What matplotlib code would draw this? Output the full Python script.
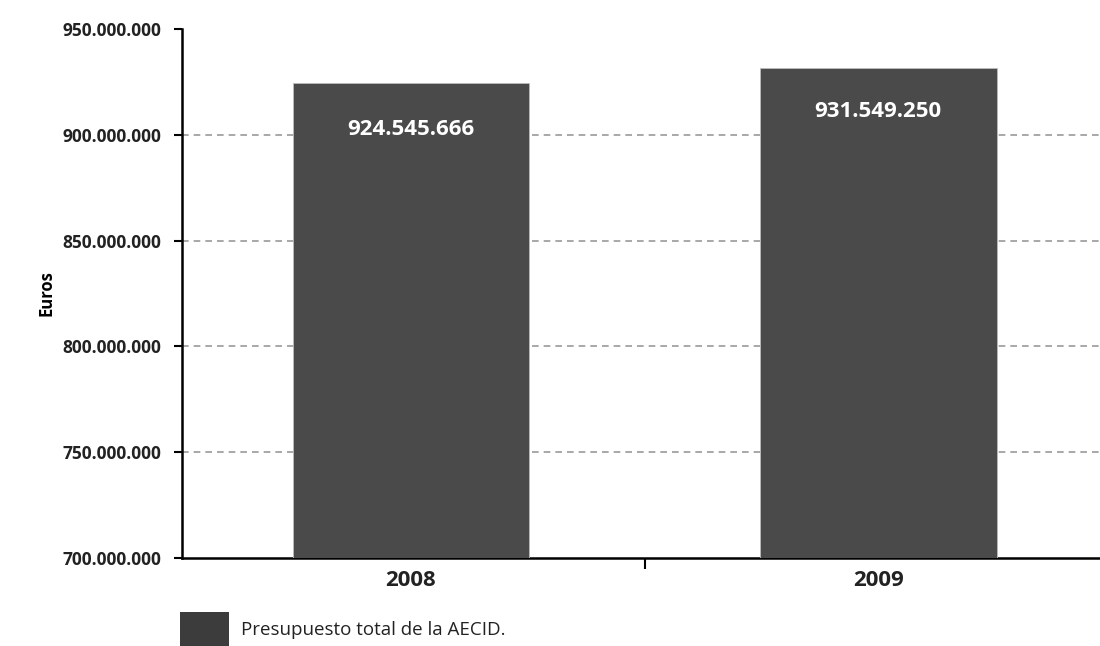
import matplotlib.pyplot as plt
import matplotlib.patches as mpatches
from matplotlib.ticker import FuncFormatter

# Data
years = ['2008', '2009']
budget = [924545666, 931549250]
label_offsets = [22e6, 20.5e6]  # how far below the bar top the value label sits
y_ticks = [700e6, 750e6, 800e6, 850e6, 900e6, 950e6]

plt.rcParams['font.family'] = ['Open Sans', 'DejaVu Sans']

fig = plt.figure(figsize=(11, 6.46), dpi=100)
ax = fig.add_axes([0.1655, 0.1362, 0.8345, 0.8189])

x = list(range(len(years)))
ax.bar(x, budget, width=0.507, color='#4a4a4a', edgecolor='#bdbdbd', linewidth=0.6, zorder=3)

for xi, val, off in zip(x, budget, label_offsets):
    txt = f'{val:,}'.replace(',', '.')
    ax.text(xi, val - off, txt, color='white', fontsize=16, fontweight='bold',
            ha='center', va='center', zorder=4)

ax.set_ylim(700e6, 950e6)
ax.set_xlim(-0.49, 1.475)
ax.set_yticks(y_ticks)
ax.yaxis.set_major_formatter(FuncFormatter(lambda v, p: f'{int(v):,}'.replace(',', '.')))
ax.tick_params(axis='y', length=6, width=1.5, labelsize=12.5, pad=9)
for lab in ax.get_yticklabels():
    lab.set_fontweight('bold')
    lab.set_color('#222222')

# x axis: category labels plus a single divider tick between groups
ax.set_xticks([0.5])
ax.set_xticklabels([''])
ax.tick_params(axis='x', length=8, width=1.5, direction='out')
for xi, yr in zip(x, years):
    ax.text(xi, -0.022, yr, transform=ax.get_xaxis_transform(), ha='center', va='top',
            fontsize=16, fontweight='bold', color='#222222')

for t in y_ticks[1:-1]:
    ax.axhline(t, color='#9a9a9a', linestyle=(0, (4, 3)), linewidth=1.2, zorder=1)

ax.spines['top'].set_visible(False)
ax.spines['right'].set_visible(False)
ax.spines['left'].set_linewidth(1.8)
ax.spines['bottom'].set_linewidth(1.8)

ax.set_ylabel('Euros', fontsize=12, fontweight='bold')
ax.yaxis.set_label_coords(-0.138, 0.5)

# legend: swatch + caption below the axes
fig.patches.append(mpatches.Rectangle((0.1636, -0.0155), 0.0445, 0.068, transform=fig.transFigure,
                                      facecolor='#3c3c3c', edgecolor='none'))
fig.text(0.219, 0.025, 'Presupuesto total de la AECID.', fontsize=13.5, va='center', color='#222222')

fig.savefig('out.png', dpi=100)
